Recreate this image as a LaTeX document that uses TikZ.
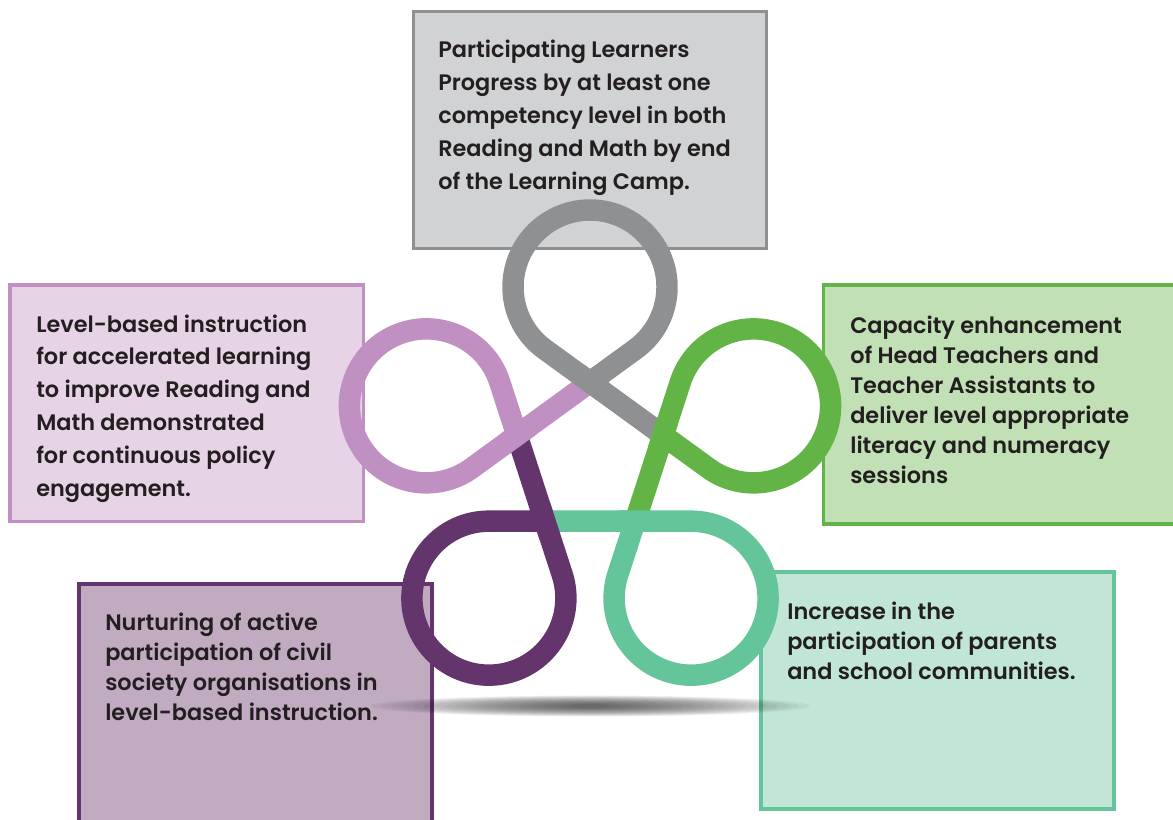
\documentclass[tikz,border=0pt]{standalone}
\usepackage{fontspec}
\setmainfont{Poppins}[BoldFont={Poppins SemiBold}]
\usetikzlibrary{calc}
\definecolor{kgray}{HTML}{8E9092}
\definecolor{kpink}{HTML}{C190C2}
\definecolor{kpurp}{HTML}{64346C}
\definecolor{kteal}{HTML}{64C49A}
\definecolor{kgreen}{HTML}{63B446}
\definecolor{fgray}{HTML}{D1D2D4}
\definecolor{fpink}{HTML}{E6D3E6}
\definecolor{fpurp}{HTML}{C0ABC1}
\definecolor{fteal}{HTML}{C1E6D6}
\definecolor{fgreen}{HTML}{C1E0B5}
\definecolor{txtc}{HTML}{231F20}
\tikzset{
  boxframe/.style={line width=2.5pt},
  txt/.style={inner sep=0pt, anchor=base west, text=txtc, font=\bfseries},
  knot/.style={line width=16.1pt, line cap=butt, line join=round}
}
\begin{document}
\begin{tikzpicture}[x=0.75pt,y=-0.75pt]
\useasboundingbox (0,0) rectangle (1173,819);
% boxes
\draw[boxframe, draw=kgray, fill=fgray] (413.5,11.5) rectangle (766.5,248.5);
\draw[boxframe, draw=kpink, fill=fpink] (10,285) rectangle (363.5,521.5);
\draw[boxframe, draw=kgreen, fill=fgreen] (823.5,285) rectangle (1195,524);
\draw[boxframe, draw=kpurp, fill=fpurp] (79,584) rectangle (432,845);
\draw[boxframe, draw=kteal, fill=fteal] (761,572) rectangle (1114,809);
% texts
\node[txt] (tgray) at (438,57) {\parbox[t]{320pt}{\fontsize{16.8}{24.75}\selectfont
Participating Learners\\Progress by at least one\\competency level in both\\Reading and Math by end\\of the Learning Camp.}};
\node[txt] (tpink) at (36,332) {\parbox[t]{320pt}{\fontsize{16.8}{24.6}\selectfont
Level-based instruction\\for accelerated learning\\to improve Reading and\\Math demonstrated\\for continuous policy\\engagement.}};
\node[txt] (tgreen) at (850,333) {\parbox[t]{320pt}{\fontsize{16.8}{22.5}\selectfont
Capacity enhancement\\of Head Teachers and\\Teacher Assistants to\\deliver level appropriate\\literacy and numeracy\\sessions}};
\node[txt] (tpurp) at (105,630) {\parbox[t]{320pt}{\fontsize{16.8}{22.7}\selectfont
Nurturing of active\\participation of civil\\society organisations in\\level-based instruction.}};
\node[txt] (tteal) at (787,619) {\parbox[t]{320pt}{\fontsize{16.8}{22.5}\selectfont
Increase in the\\participation of parents\\and school communities.}};
% knot
\begin{scope}[shift={(590,459)}, y={(0,0.75pt)}]
  \foreach \k/\c in {0/kgray,1/kpink,2/kpurp,3/kteal,4/kgreen}{
    \pgfmathsetmacro\th{90+72*\k}
    \draw[knot, draw=\c] (\th:76.82) -- ($(\th:172)+(\th-144:77)$)
      arc[start angle=\th-144, delta angle=288, radius=77] -- (\th-72:76.82);
  }
  \foreach \k/\c in {0/kgray,1/kpink,2/kpurp,3/kteal,4/kgreen}{
    \pgfmathsetmacro\th{90+72*\k}
    \coordinate (Pb) at ($(\th:172)+(\th+144:77)$);
    \coordinate (Wk) at (\th:76.82);
    \draw[knot, draw=\c] ($(Wk)!12pt!(Pb)$) -- ($(Wk)!-12pt!(Pb)$);
  }
\end{scope}
% shadow
\foreach \i in {1,...,20}{
  \fill[black, opacity=0.045] (590,706) ellipse [x radius={230-10.5*\i}, y radius={11-0.45*\i}];
}
\end{tikzpicture}
\end{document}
